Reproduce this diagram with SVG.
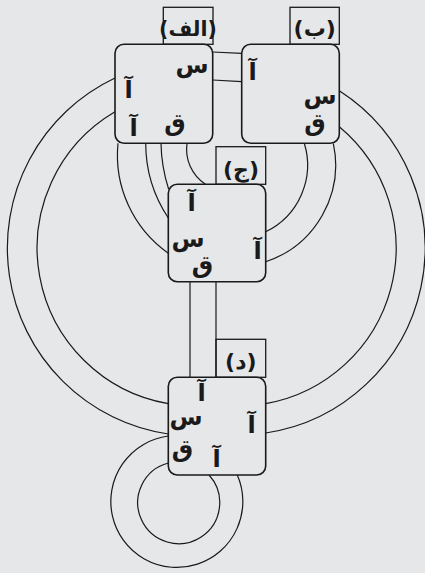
<svg xmlns="http://www.w3.org/2000/svg" width="425" height="573" viewBox="0 0 425 573">
<style>
.bg{fill:#e6e7e8}
.box{fill:#e6e7e8;stroke:#1a1a1a;stroke-width:1.6}
.lbl{fill:none;stroke:#1a1a1a;stroke-width:1.3}
.c{fill:none;stroke:#1a1a1a;stroke-width:1.2}
.t{font-family:"DejaVu Sans","Noto Sans",sans-serif;font-weight:bold;font-size:24px;fill:#1a1a1a;text-anchor:middle}
.lt{font-family:"DejaVu Sans","Noto Sans",sans-serif;font-weight:bold;font-size:22px;fill:#1a1a1a;text-anchor:middle}
</style>
<rect class="bg" x="0" y="0" width="425" height="573"/>
<g id="connectors">
<path class="c" d="M212.7,52 L241.7,53.3"/>
<path class="c" d="M212.7,80 L241.7,81.7"/>
<path class="c" d="M115,78 A188,188 0 0 0 168.3,434"/>
<path class="c" d="M115,111.8 A158,158 0 0 0 168.3,403.7"/>
<path class="c" d="M339.3,90.8 A187,187 0 0 1 265.7,433"/>
<path class="c" d="M339.3,126.7 A158,158 0 0 1 265.7,403.6"/>
<path class="c" d="M118,143.3 A120,120 0 0 0 168.3,253.3"/>
<path class="c" d="M145.7,143.3 A135,135 0 0 0 168.3,218"/>
<path class="c" d="M161,143.3 A157,157 0 0 0 168.6,189"/>
<path class="c" d="M187,143.3 A42,42 0 0 0 205.5,184.3"/>
<path class="c" d="M304.3,143.3 A74,74 0 0 1 265.7,231.7"/>
<path class="c" d="M333.3,143.3 A102,102 0 0 1 265.7,261.7"/>
<path class="c" d="M190,281.7 L190,377.3"/>
<path class="c" d="M216,281.7 L216,377.3"/>
<path class="c" d="M168.3,436 A66,66 0 1 0 237.3,475"/>
<path class="c" d="M168.3,463 A41,41 0 1 0 209,475"/>
</g>
<g id="node-alef">
<rect class="lbl" x="163.3" y="7.3" width="49.7" height="37"/>
<rect class="box" x="115" y="44.3" width="97.7" height="99" rx="9"/>
<text class="lt" x="188" y="36" style="font-size:20.5px">(الف)</text>
<text class="t" x="192" y="73">س</text>
<text class="t" x="128.5" y="98">آ</text>
<text class="t" x="133.5" y="136">آ</text>
<text class="t" x="175" y="131">ق</text>
</g>
<g id="node-be">
<rect class="lbl" x="290" y="7.3" width="49.3" height="37"/>
<rect class="box" x="241.7" y="44.3" width="97.6" height="99" rx="9"/>
<text class="lt" x="314.7" y="36">(ب)</text>
<text class="t" x="252.5" y="80">آ</text>
<text class="t" x="320" y="104">س</text>
<text class="t" x="315" y="131">ق</text>
</g>
<g id="node-jim">
<rect class="lbl" x="216" y="146.7" width="49.7" height="37.6"/>
<rect class="box" x="168.3" y="184.3" width="97.4" height="97.4" rx="9"/>
<text class="lt" x="241" y="177">(ج)</text>
<text class="t" x="191.5" y="211">آ</text>
<text class="t" x="188" y="247">س</text>
<text class="t" x="202.5" y="273">ق</text>
<text class="t" x="257.5" y="259">آ</text>
</g>
<g id="node-dal">
<rect class="lbl" x="216" y="339.3" width="49.7" height="38"/>
<rect class="box" x="168.3" y="377.3" width="97.4" height="97.7" rx="9"/>
<text class="lt" x="240.8" y="369">(د)</text>
<text class="t" x="201.5" y="401">آ</text>
<text class="t" x="186" y="425">س</text>
<text class="t" x="182.5" y="457">ق</text>
<text class="t" x="251.5" y="433">آ</text>
<text class="t" x="216.5" y="467">آ</text>
</g>
</svg>
